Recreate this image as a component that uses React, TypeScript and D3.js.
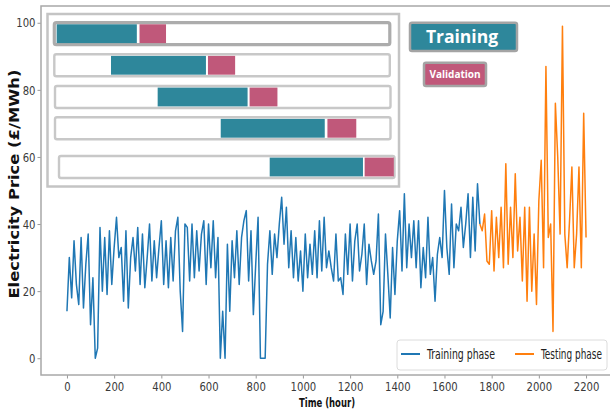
import React, { useEffect, useRef } from 'react';
import * as d3 from 'd3';

const STEP = 10;
const TEST_START = 1750;

// training phase: price every 10 h from hour 0 to 1750
const trainingPrice = [
  14, 30, 18, 35, 22, 16, 36, 15, 28, 37,
  10, 24, 0, 3, 39, 20, 36, 19, 38, 22,
  33, 42, 30, 33, 17, 38, 15, 30, 36, 26,
  39, 22, 37, 21, 30, 40, 23, 35, 24, 33,
  41, 22, 35, 21, 36, 23, 38, 42, 20, 8,
  40, 39,
  23, 40, 24, 38, 26, 37, 41, 22, 40, 27,
  41, 24, 36, 0, 14, 0, 34, 14, 35, 24,
  38, 22, 36, 41, 44, 23, 38, 13, 28, 42,
  0, 0, 0, 28, 38, 25, 37, 30, 40, 48,
  34, 45, 27, 38, 24, 36, 23, 32, 20, 37,
  24, 34, 25, 38, 24, 41, 26, 42, 27,
  32, 27, 23, 37, 23, 24, 19, 37, 25, 40,
  23, 35, 40, 26, 31, 40, 22, 34, 29, 25,
  29, 43, 10, 14, 37, 25, 12, 33, 19, 35,
  44, 26, 49, 27, 40, 30, 41, 27, 41, 21,
  33, 24, 42, 25, 30, 17, 31, 36, 30, 50,
  33, 25, 46, 27, 40, 38, 45, 33, 40, 49,
  30, 48, 32, 52, 40,
];

// testing phase: price every 10 h from hour 1750 to 2200
const testingPrice = [
  40, 38, 43, 29, 28, 44, 26, 42, 30, 45,
  27, 58, 28, 45, 30, 55, 32, 42, 23, 45,
  17, 45, 20, 37, 16, 47, 59, 27, 87, 36,
  40, 8, 76, 60, 37, 99, 37, 27, 41, 57,
  27, 37, 57, 27, 73, 36,
];

const xTicks = [0, 200, 400, 600, 800, 1000, 1200, 1400, 1600, 1800, 2000, 2200];
const yTicks = [0, 20, 40, 60, 80, 100];

// inset: rolling-window folds, as fractions of the row length
const foldTrainStart = [0.007, 0.169, 0.306, 0.494, 0.628];
const foldTrainEnd = [0.246, 0.452, 0.574, 0.804, 0.906];
const foldValStart = [0.254, 0.458, 0.58, 0.812, 0.911];
const foldValEnd = [0.333, 0.539, 0.663, 0.898, 0.998];

const seriesNames = ['Training phase', 'Testing phase'];
const seriesColors = ['#1f77b4', '#ff7f0e'];

const TEAL = '#2e879b';
const PINK = '#c0587a';
const NARROW = '"DejaVu Sans Condensed", "DejaVu Sans", sans-serif';

const App = () => {
  const ref = useRef<SVGSVGElement>(null);

  useEffect(() => {
    drawChart();
  }, []);

  const drawChart = () => {
    const svg = d3.select(ref.current);
    svg.selectAll('*').remove();

    const x = d3.scaleLinear().domain([-110, 2310]).range([41, 612]);
    const y = d3.scaleLinear().domain([-5, 105]).range([375, 6]);

    svg.append('rect').attr('width', 610).attr('height', 413).attr('fill', '#fff');

    // lines
    const line = d3.line<number>()
      .x((_, i) => x(i * STEP))
      .y(d => y(d));
    const testLine = d3.line<number>()
      .x((_, i) => x(TEST_START + i * STEP))
      .y(d => y(d));

    svg.append('path')
      .datum(trainingPrice)
      .attr('d', line)
      .attr('fill', 'none')
      .attr('stroke', seriesColors[0])
      .attr('stroke-width', 1.5)
      .attr('stroke-linejoin', 'round');

    svg.append('path')
      .datum(testingPrice)
      .attr('d', testLine)
      .attr('fill', 'none')
      .attr('stroke', seriesColors[1])
      .attr('stroke-width', 1.5)
      .attr('stroke-linejoin', 'round');

    // axes
    const fmt = d3.format('d');
    const xAxis = svg.append('g')
      .attr('transform', `translate(0,${y(-5)})`)
      .call(d3.axisBottom(x).tickValues(xTicks).tickFormat(fmt).tickSize(3.5).tickPadding(3));
    const yAxis = svg.append('g')
      .attr('transform', `translate(${x(-110)},0)`)
      .call(d3.axisLeft(y).tickValues(yTicks).tickFormat(fmt).tickSize(3.5).tickPadding(2));

    [xAxis, yAxis].forEach(g => {
      g.select('.domain').remove();
      g.selectAll('line').attr('stroke', '#999');
      g.selectAll<SVGTextElement, number>('text')
        .attr('fill', '#3a3a3a')
        .attr('textLength', d => String(d).length * 6.4)
        .attr('lengthAdjust', 'spacingAndGlyphs')
        .style('font-family', NARROW)
        .style('font-size', '13px');
    });

    // frame
    svg.append('rect')
      .attr('x', x(-110))
      .attr('y', y(105))
      .attr('width', x(2310) - x(-110))
      .attr('height', y(-5) - y(105))
      .attr('fill', 'none')
      .attr('stroke', '#a8a8a8')
      .attr('stroke-width', 1.5);

    svg.append('text')
      .attr('transform', `translate(18.5,${(y(0) + y(105)) / 2 + 2}) rotate(-90)`)
      .attr('text-anchor', 'middle')
      .attr('textLength', 229)
      .attr('lengthAdjust', 'spacingAndGlyphs')
      .style('font-family', '"DejaVu Sans", sans-serif')
      .style('font-weight', 'bold')
      .style('font-size', '14px')
      .attr('fill', '#111')
      .text('Electricity Price (£/MWh)');

    svg.append('text')
      .attr('x', 327)
      .attr('y', 407)
      .attr('text-anchor', 'middle')
      .attr('textLength', 56)
      .attr('lengthAdjust', 'spacingAndGlyphs')
      .style('font-family', NARROW)
      .style('font-weight', 'bold')
      .style('font-size', '13px')
      .attr('fill', '#111')
      .text('Time (hour)');

    // legend
    const lg = svg.append('g');
    lg.append('rect')
      .attr('x', 397).attr('y', 340).attr('width', 210).attr('height', 30)
      .attr('rx', 3)
      .attr('fill', '#fff').attr('fill-opacity', 0.85)
      .attr('stroke', '#dcdcdc');
    const legendX = [401, 515];
    const legendLen = [68, 61];
    seriesNames.forEach((name, i) => {
      lg.append('line')
        .attr('x1', legendX[i]).attr('x2', legendX[i] + 19)
        .attr('y1', 354).attr('y2', 354)
        .attr('stroke', seriesColors[i]).attr('stroke-width', 2);
      // squeeze the label horizontally to the narrow look of the original
      const holder = lg.append('g');
      const t = holder.append('text')
        .style('font-family', NARROW)
        .style('font-size', '13.5px')
        .attr('fill', '#222')
        .text(name);
      const natural = (t.node() as SVGTextElement).getComputedTextLength() || legendLen[i];
      holder.attr('transform', `translate(${legendX[i] + 26},359) scale(${legendLen[i] / natural},1)`);
    });

    // inset schematic
    const inset = svg.append('g');
    inset.append('rect')
      .attr('x', 47.5).attr('y', 14).attr('width', 351.5).attr('height', 172.5)
      .attr('fill', '#fff').attr('stroke', '#c4c4c4').attr('stroke-width', 2.5);

    const rowTop = [22.7, 54.3, 86, 117.3, 156];
    const rowLeft = [54.3, 54.3, 55, 55, 59];
    const rowH = 22;
    foldTrainStart.forEach((_, i) => {
      const r = d3.scaleLinear().domain([0, 1]).range([rowLeft[i], rowLeft[i] + 335.5]);
      inset.append('rect')
        .attr('x', r(0)).attr('y', rowTop[i])
        .attr('width', r(1) - r(0)).attr('height', rowH)
        .attr('rx', 2)
        .attr('fill', '#fff')
        .attr('stroke', i === 0 ? '#acacac' : '#c8c8c8')
        .attr('stroke-width', i === 0 ? 3.2 : 2.4);
      inset.append('rect')
        .attr('x', r(foldTrainStart[i])).attr('y', rowTop[i] + 1.6)
        .attr('width', r(foldTrainEnd[i]) - r(foldTrainStart[i])).attr('height', rowH - 3.2)
        .attr('fill', TEAL);
      inset.append('rect')
        .attr('x', r(foldValStart[i])).attr('y', rowTop[i] + 1.6)
        .attr('width', r(foldValEnd[i]) - r(foldValStart[i])).attr('height', rowH - 3.2)
        .attr('fill', PINK);
    });

    // Training / Validation labels
    svg.append('rect')
      .attr('x', 410).attr('y', 22.7).attr('width', 107).attr('height', 28.3)
      .attr('rx', 2)
      .attr('fill', TEAL).attr('stroke', '#a4a4a4').attr('stroke-width', 2.5);
    svg.append('text')
      .attr('x', 462).attr('y', 43)
      .attr('text-anchor', 'middle')
      .style('font-family', '"Open Sans", sans-serif')
      .style('font-weight', 'bold')
      .style('font-size', '17.5px')
      .attr('fill', '#fff')
      .text('Training');

    svg.append('rect')
      .attr('x', 424).attr('y', 62.7).attr('width', 62).attr('height', 23.3)
      .attr('rx', 2)
      .attr('fill', PINK).attr('stroke', '#a4a4a4').attr('stroke-width', 2.5);
    svg.append('text')
      .attr('x', 455).attr('y', 77.5)
      .attr('text-anchor', 'middle')
      .style('font-family', '"Open Sans", sans-serif')
      .style('font-weight', 'bold')
      .style('font-size', '10px')
      .attr('fill', '#fff')
      .text('Validation');
  };

  return (
    <svg
      ref={ref}
      width={610}
      height={413}
      style={{ position: 'absolute', left: 0, top: 0 }}
    />
  );
};

export default App;
